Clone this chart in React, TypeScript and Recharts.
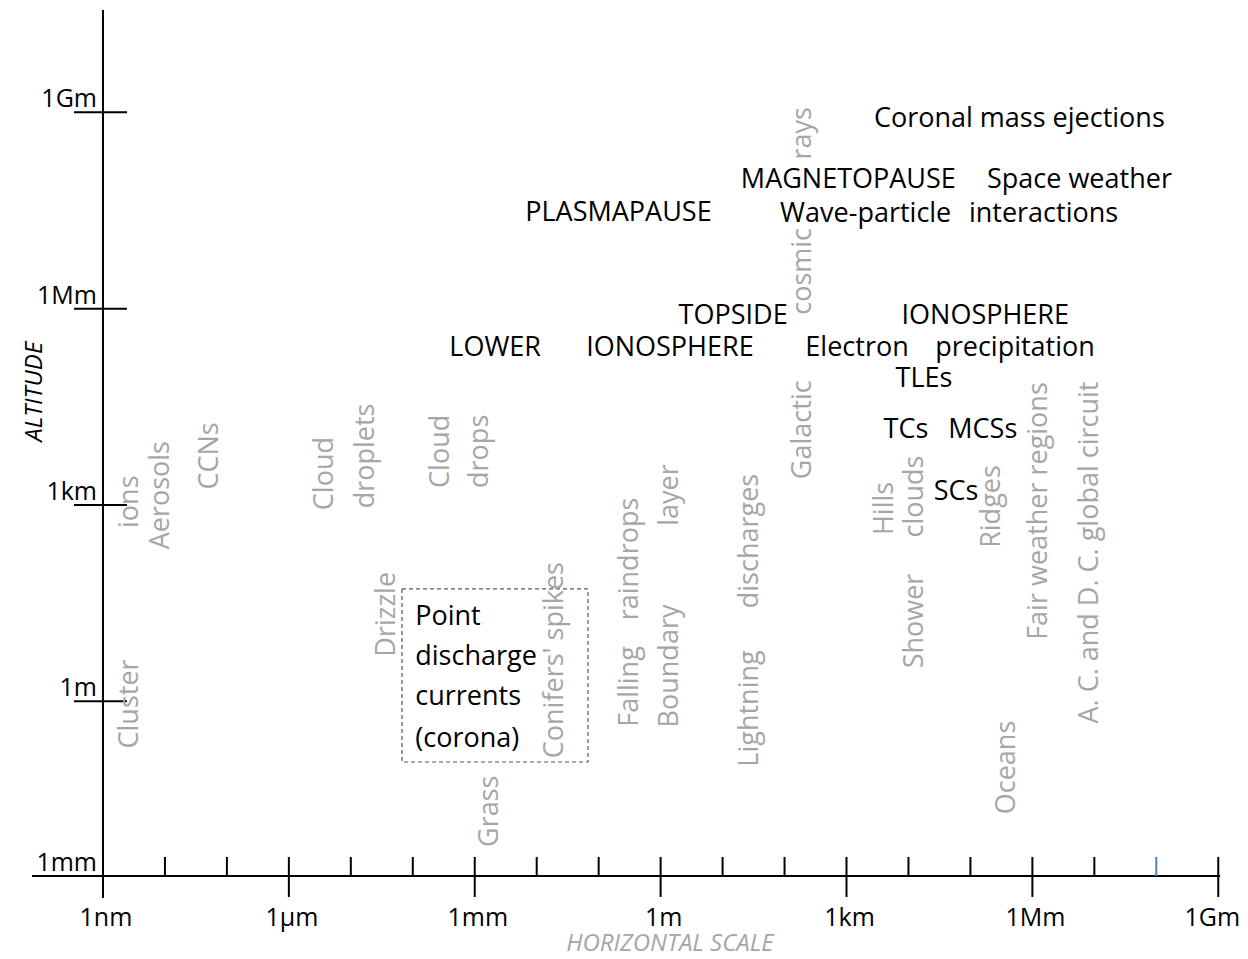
import { ScatterChart, Scatter, XAxis, YAxis, ReferenceLine, ReferenceArea } from "recharts";

// all positions are decimal exponents (log10 of metres)
const X_DOMAIN = [-10.533, 9.48];
const Y_DOMAIN = [-3.937, 10.594];
const AXIS_Y = -2.668; // where the horizontal scale line sits
const AXIS_X = -9;

const X_TICK_VALUES = [-9, -8, -7, -6, -5, -4, -3, -2, -1, 0, 1, 2, 3, 4, 5, 6, 7, 8, 9];
const X_TICK_NAMES = ["1nm", "", "", "1µm", "", "", "1mm", "", "", "1m", "", "", "1km", "", "", "1Mm", "", "", "1Gm"];
const X_TICK_BLUE = [8];

const Y_TICK_VALUES = [AXIS_Y, 0, 3, 6, 9];
const Y_TICK_NAMES = ["1mm", "1m", "1km", "1Mm", "1Gm"];

// space physics / atmosphere labels (horizontal, black)
const BLACK_LABELS = [
  { text: "Coronal mass ejections", x: 5.79, y: 8.94 },
  { text: "MAGNETOPAUSE", x: 3.03, y: 8.0 },
  { text: "Space weather", x: 6.76, y: 8.0 },
  { text: "PLASMAPAUSE", x: -0.68, y: 7.5 },
  { text: "Wave-particle", x: 3.31, y: 7.48 },
  { text: "interactions", x: 6.18, y: 7.48 },
  { text: "TOPSIDE", x: 1.17, y: 5.93 },
  { text: "IONOSPHERE", x: 5.24, y: 5.93 },
  { text: "LOWER", x: -2.67, y: 5.44 },
  { text: "IONOSPHERE", x: 0.15, y: 5.44 },
  { text: "Electron", x: 3.17, y: 5.44 },
  { text: "precipitation", x: 5.72, y: 5.44 },
  { text: "TLEs", x: 4.25, y: 4.97 },
  { text: "TCs", x: 3.96, y: 4.18 },
  { text: "MCSs", x: 5.2, y: 4.18 },
  { text: "SCs", x: 4.77, y: 3.23 },
];

// phenomena written vertically in grey
const GREY_LABELS = [
  { text: "ions", x: -8.61, y: 3.05 },
  { text: "Aerosols", x: -8.11, y: 3.15 },
  { text: "CCNs", x: -7.31, y: 3.75 },
  { text: "Cloud", x: -5.45, y: 3.48 },
  { text: "droplets", x: -4.8, y: 3.75 },
  { text: "Cloud", x: -3.59, y: 3.82 },
  { text: "drops", x: -2.96, y: 3.82 },
  { text: "Drizzle", x: -4.45, y: 1.33 },
  { text: "Cluster", x: -8.61, y: -0.04 },
  { text: "Conifers' spikes", x: -1.74, y: 0.63 },
  { text: "Grass", x: -2.79, y: -1.68 },
  { text: "Falling", x: -0.527, y: 0.227 },
  { text: "raindrops", x: -0.527, y: 2.175 },
  { text: "Boundary", x: 0.119, y: 0.54 },
  { text: "layer", x: 0.119, y: 3.153 },
  { text: "Lightning", x: 1.41, y: -0.109 },
  { text: "discharges", x: 1.41, y: 2.45 },
  { text: "Galactic", x: 2.25, y: 4.15 },
  { text: "cosmic", x: 2.25, y: 6.57 },
  { text: "rays", x: 2.25, y: 8.68 },
  { text: "Hills", x: 3.589, y: 2.947 },
  { text: "Shower", x: 4.073, y: 1.228 },
  { text: "clouds", x: 4.073, y: 3.13 },
  { text: "Ridges", x: 5.316, y: 2.977 },
  { text: "Oceans", x: 5.558, y: -1.011 },
  { text: "Fair weather regions", x: 6.074, y: 2.908 },
  { text: "A. C. and D. C. global circuit", x: 6.897, y: 2.274 },
];

const CORONA_BOX = { x1: -4.174, x2: -1.172, y1: -0.927, y2: 1.717 };
const CORONA_LINES = [
  { text: "Point", x: -3.96, y: 1.33 },
  { text: "discharge", x: -3.96, y: 0.71 },
  { text: "currents", x: -3.96, y: 0.1 },
  { text: "(corona)", x: -3.96, y: -0.53 },
];

const AXIS_TITLES = [
  { text: "ALTITUDE", x: -10.13, y: 4.73, vertical: true, color: "#000" },
  { text: "HORIZONTAL SCALE", x: 0.15, y: -3.67, vertical: false, color: "#a6a6a6" },
];

const FONT = "'Open Sans', Lato, sans-serif";

const xTicks = X_TICK_VALUES.map((v, i) => ({
  x: v,
  y: AXIS_Y,
  name: X_TICK_NAMES[i],
  blue: X_TICK_BLUE.includes(v),
  last: i === X_TICK_VALUES.length - 1,
}));
const yTicks = Y_TICK_VALUES.map((v, i) => ({
  x: AXIS_X,
  y: v,
  name: Y_TICK_NAMES[i],
  line: v !== AXIS_Y,
}));

const XTickShape = (p: any) => {
  const { cx, cy, payload } = p;
  const major = payload.name !== "";
  const col = payload.blue ? "#4f81bd" : "#000";
  return (
    <g>
      <line x1={cx} x2={cx} y1={cy - 19} y2={major ? cy + 21 : cy} stroke={col} strokeWidth={2} />
      {major && (
        <text
          x={payload.last ? cx - 6 : cx + 3}
          y={cy + 40}
          textAnchor="middle"
          dominantBaseline="central"
          fontSize={25}
          fontFamily={FONT}
          fill="#000"
        >
          {payload.name}
        </text>
      )}
    </g>
  );
};

const YTickShape = (p: any) => {
  const { cx, cy, payload } = p;
  return (
    <g>
      {payload.line && <line x1={cx - 29} x2={cx + 24} y1={cy} y2={cy} stroke="#000" strokeWidth={2} />}
      <text x={cx - 6} y={cy - 15} textAnchor="end" dominantBaseline="central" fontSize={25} fontFamily={FONT} fill="#000">
        {payload.name}
      </text>
    </g>
  );
};

const BlackText = (p: any) => (
  <text x={p.cx} y={p.cy} textAnchor="middle" dominantBaseline="central" fontSize={27} fontFamily={FONT} fill="#000">
    {p.payload.text}
  </text>
);

const LeftText = (p: any) => (
  <text x={p.cx} y={p.cy} textAnchor="start" dominantBaseline="central" fontSize={27} fontFamily={FONT} fill="#000">
    {p.payload.text}
  </text>
);

const GreyText = (p: any) => (
  <text
    x={p.cx}
    y={p.cy}
    transform={`rotate(-90 ${p.cx} ${p.cy})`}
    textAnchor="middle"
    dominantBaseline="central"
    fontSize={27}
    fontFamily={FONT}
    fill="#a6a6a6"
  >
    {p.payload.text}
  </text>
);

const TitleText = (p: any) => {
  const { cx, cy, payload } = p;
  return (
    <text
      x={cx}
      y={cy}
      transform={payload.vertical ? `rotate(-90 ${cx} ${cy})` : undefined}
      textAnchor="middle"
      dominantBaseline="central"
      fontSize={24}
      fontStyle="italic"
      fontFamily={FONT}
      fill={payload.color}
    >
      {payload.text}
    </text>
  );
};

export default function App() {
  return (
    <ScatterChart width={1240} height={951} margin={{ top: 0, right: 0, bottom: 0, left: 0 }}>
      <XAxis type="number" dataKey="x" domain={X_DOMAIN} hide />
      <YAxis type="number" dataKey="y" domain={Y_DOMAIN} hide />

      <ReferenceArea
        x1={CORONA_BOX.x1}
        x2={CORONA_BOX.x2}
        y1={CORONA_BOX.y1}
        y2={CORONA_BOX.y2}
        fill="none"
        stroke="#595959"
        strokeWidth={1.2}
        strokeDasharray="4 3"
      />

      {/* axis lines */}
      <ReferenceLine
        segment={[{ x: -10.146, y: AXIS_Y }, { x: 9.03, y: AXIS_Y }]}
        stroke="#000"
        strokeWidth={2}
        ifOverflow="visible"
      />
      <ReferenceLine
        segment={[{ x: AXIS_X, y: -3.005 }, { x: AXIS_X, y: 10.563 }]}
        stroke="#000"
        strokeWidth={2}
        ifOverflow="visible"
      />

      <Scatter data={xTicks} shape={XTickShape} isAnimationActive={false} />
      <Scatter data={yTicks} shape={YTickShape} isAnimationActive={false} />
      <Scatter data={GREY_LABELS} shape={GreyText} isAnimationActive={false} />
      <Scatter data={BLACK_LABELS} shape={BlackText} isAnimationActive={false} />
      <Scatter data={CORONA_LINES} shape={LeftText} isAnimationActive={false} />
      <Scatter data={AXIS_TITLES} shape={TitleText} isAnimationActive={false} />
    </ScatterChart>
  );
}
